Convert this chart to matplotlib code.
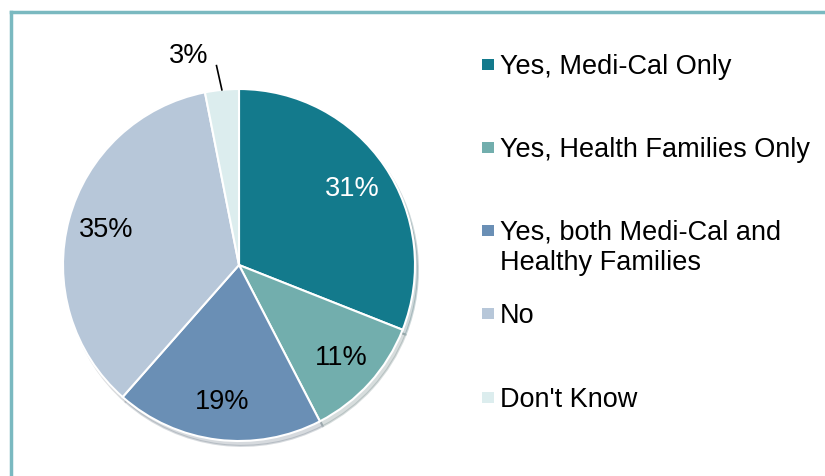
# pie of coverage answers, with a framed legend on the right

import numpy as np
import matplotlib
matplotlib.use("Agg")
import matplotlib.pyplot as plt
from matplotlib.lines import Line2D
from matplotlib.patches import Rectangle

categories = ["Yes, Medi-Cal Only", "Yes, Health Families Only",
              "Yes, both Medi-Cal and\nHealthy Families", "No", "Don't Know"]
shares = [31.0, 11.4, 19.1, 35.4, 3.1]
pct_labels = ["31%", "11%", "19%", "35%", "3%"]
colors = ["#137a8c", "#72aead", "#6a8fb5", "#b7c7d9", "#dcedee"]

W, H = 825, 477
plt.rcParams['font.family'] = ['Liberation Sans', 'DejaVu Sans']


def fx(x):
    return x / W


def fy(y):
    return 1 - y / H


fig = plt.figure(figsize=(W / 100, H / 100), dpi=100)
fig.patch.set_facecolor("white")

# pie centre (239, 266) px, radius 176 px
cx, cy, r = 239, 266, 176
ax = fig.add_axes([fx(cx - r), fy(cy + r), 2 * r / W, 2 * r / H])

wedges, texts, autotexts = ax.pie(
    shares, colors=colors, startangle=90, counterclock=False, radius=1,
    autopct=lambda p: "", pctdistance=0.78,
    wedgeprops=dict(edgecolor="white", linewidth=1.5),
    shadow=dict(ox=0.012, oy=-0.02, shade=0.5, alpha=0.2))
ax.set_xlim(-1, 1)
ax.set_ylim(-1, 1)
ax.axis("off")

for w, t, lab in zip(wedges, autotexts, pct_labels):
    t.set_text(lab)
    t.set_fontsize(19.5)
    t.set_color("black")
autotexts[0].set_color("white")

# small slice: label outside with a leader line
w = wedges[-1]
mid = np.deg2rad((w.theta1 + w.theta2) / 2)
ax.plot([np.cos(mid), 1.14 * np.cos(mid + 0.015)],
        [np.sin(mid), 1.14 * np.sin(mid + 0.015)], color="black", lw=1.2,
        clip_on=False)
lab_ang = mid + np.deg2rad(8)
autotexts[-1].set_position((1.23 * np.cos(lab_ang), 1.23 * np.sin(lab_ang)))

# frame lines on top and left
frame_col = "#7ab9c0"
fig.add_artist(Line2D([fx(11), 1], [fy(13), fy(13)], color=frame_col, lw=2.5,
                      transform=fig.transFigure))
fig.add_artist(Line2D([fx(11), fx(11)], [fy(13), 0], color=frame_col, lw=2.5,
                      transform=fig.transFigure))

# legend, entries spaced evenly by first line (baseline is the last line's)
for i, (cat, col) in enumerate(zip(categories, colors)):
    base = 73.5 + i * 83.3
    fig.add_artist(Rectangle((fx(482), fy(base - 3)), 12 / W, 11 / H,
                             facecolor=col, edgecolor="none",
                             transform=fig.transFigure))
    fig.text(fx(500), fy(base + 30 * cat.count("\n")), cat, fontsize=19.5,
             va="baseline", ha="left", linespacing=1.22)

fig.savefig("out.png", dpi=100)
